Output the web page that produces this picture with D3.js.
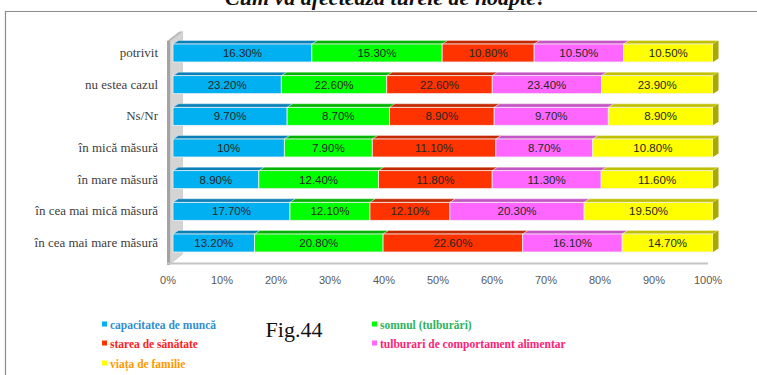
<!DOCTYPE html>
<html><head><meta charset="utf-8">
<script src="https://cdn.jsdelivr.net/npm/d3@7"></script>
<style>body{margin:0;background:#fff}svg{display:block}</style>
</head><body>
<svg id="c" width="757" height="375"></svg>
<script>
const title = "Cum vă afectează turele de noapte?";
const categories = ["potrivit","nu estea cazul","Ns/Nr","în mică măsură","în mare măsură","în cea mai mică măsură","în cea mai mare măsură"];
const seriesNames = ["capacitatea de muncă","somnul (tulburări)","starea de sănătate","tulburari de comportament alimentar","viața de familie"];
const capacitate = [16.3,23.2,9.7,10,8.9,17.7,13.2];
const somnul = [15.3,22.6,8.7,7.9,12.4,12.1,20.8];
const starea = [10.8,22.6,8.9,11.1,11.8,12.1,22.6];
const tulburari = [10.5,23.4,9.7,8.7,11.3,20.3,16.1];
const viata = [10.5,23.9,8.9,10.8,11.6,19.5,14.7];
const ticks = [0,10,20,30,40,50,60,70,80,90,100];
const figLabel = "Fig.44";

const frontColors = ["#00b0f0","#00ff00","#ff3300","#ff66ff","#ffff00"];
const topColors = ["#0a80b8","#00b400","#c42800","#c455c4","#c0c000"];
const legendText = ["#2f8fd0","#2db35d","#ff2222","#ff2277","#ff9900"];

const seriesVals = [capacitate, somnul, starea, tulburari, viata];
const svg = d3.select("#c");

// frame + title
svg.append("path").attr("d","M5.5,375 L5.5,11.5 L757,11.5").attr("fill","none").attr("stroke","#8c8c8c").attr("stroke-width",1.2);
svg.append("text").attr("x",386).attr("y",5).attr("text-anchor","middle")
  .attr("font-family","Liberation Serif").attr("font-weight","bold").attr("font-style","italic")
  .attr("font-size",22).attr("fill","#111").text(title);

const x = d3.scaleLinear().domain([0,100]).range([168,708]);
const y = d3.scalePoint().domain(categories).range([53,243]);
const bx = 5, dx = 5.5, dy = 3.5, bh = 18;

// wall
svg.append("polygon").attr("points","170,41 182.5,31.5 182.5,254 170,264").attr("fill","#d4d4d4").attr("stroke","#bdbdbd").attr("stroke-width",0.6);
svg.append("rect").attr("x",167).attr("y",41).attr("width",3).attr("height",224).attr("fill","#a3a3a3");
svg.append("polygon").attr("points","167,41 170,41 182.5,31.5 179.5,31.5").attr("fill","#b8b8b8");
// floor
svg.append("line").attr("x1",167).attr("x2",708).attr("y1",263.5).attr("y2",263.5).attr("stroke","#c4c4c4").attr("stroke-width",2);

// tick labels
svg.append("g").selectAll("text").data(ticks).join("text")
  .attr("x",d=>x(d)).attr("y",284).attr("text-anchor","middle")
  .attr("font-family","Liberation Sans").attr("font-size",11).attr("fill","#595959")
  .text(d=>d+"%");

// category labels
svg.append("g").selectAll("text").data(categories).join("text")
  .attr("x",158).attr("y",d=>y(d)+4).attr("text-anchor","end")
  .attr("font-family","Liberation Serif").attr("font-size",13).attr("fill","#404040")
  .text(d=>d);

const fmt = v => Number.isInteger(v) ? v+"%" : v.toFixed(2)+"%";

categories.forEach((cat,i)=>{
  const vals = seriesVals.map(s=>s[i]);
  const total = d3.sum(vals);
  const xs = d3.scaleLinear().domain([0,total]).range([x(0)+bx, x(100)+bx]);
  const yTop = y(cat) - bh/2, yBot = y(cat) + bh/2;
  const g = svg.append("g");
  let cum = 0;
  vals.forEach((v,k)=>{
    const x0 = xs(cum), x1 = xs(cum+v);
    cum += v;
    g.append("polygon")
      .attr("points",`${x0},${yTop} ${x0+dx},${yTop-dy} ${x1+dx},${yTop-dy} ${x1},${yTop}`)
      .attr("fill",topColors[k]).attr("stroke","#ffffff").attr("stroke-width",0.5).attr("stroke-opacity",0.7);
    g.append("rect").attr("x",x0).attr("y",yTop).attr("width",x1-x0).attr("height",bh)
      .attr("fill",frontColors[k]).attr("stroke","#f0f0f0").attr("stroke-width",0.8);
    if(k===vals.length-1){
      g.append("polygon")
        .attr("points",`${x1},${yTop} ${x1+dx},${yTop-dy} ${x1+dx},${yBot-dy} ${x1},${yBot}`)
        .attr("fill","#a8a800");
    }
    g.append("text").attr("x",(x0+x1)/2).attr("y",y(cat)+4).attr("text-anchor","middle")
      .attr("font-family","Liberation Sans").attr("font-size",11.5).attr("fill","#262626")
      .text(fmt(v));
  });
});

// legend
const legPos = [[102,325],[372,325],[102,344],[372,344],[102,364]];
const lg = svg.append("g");
seriesNames.forEach((n,k)=>{
  const [lx,ly] = legPos[k];
  lg.append("rect").attr("x",lx).attr("y",ly-3.5).attr("width",5).attr("height",5).attr("fill",frontColors[k]);
  lg.append("text").attr("x",lx+8).attr("y",ly+4)
    .attr("font-family","Liberation Serif").attr("font-weight","bold").attr("font-size",11.5)
    .attr("fill",legendText[k]).text(n);
});
svg.append("text").attr("x",294).attr("y",337).attr("text-anchor","middle")
  .attr("font-family","Liberation Serif").attr("font-size",22).attr("fill","#111").text(figLabel);
</script>
</body></html>
